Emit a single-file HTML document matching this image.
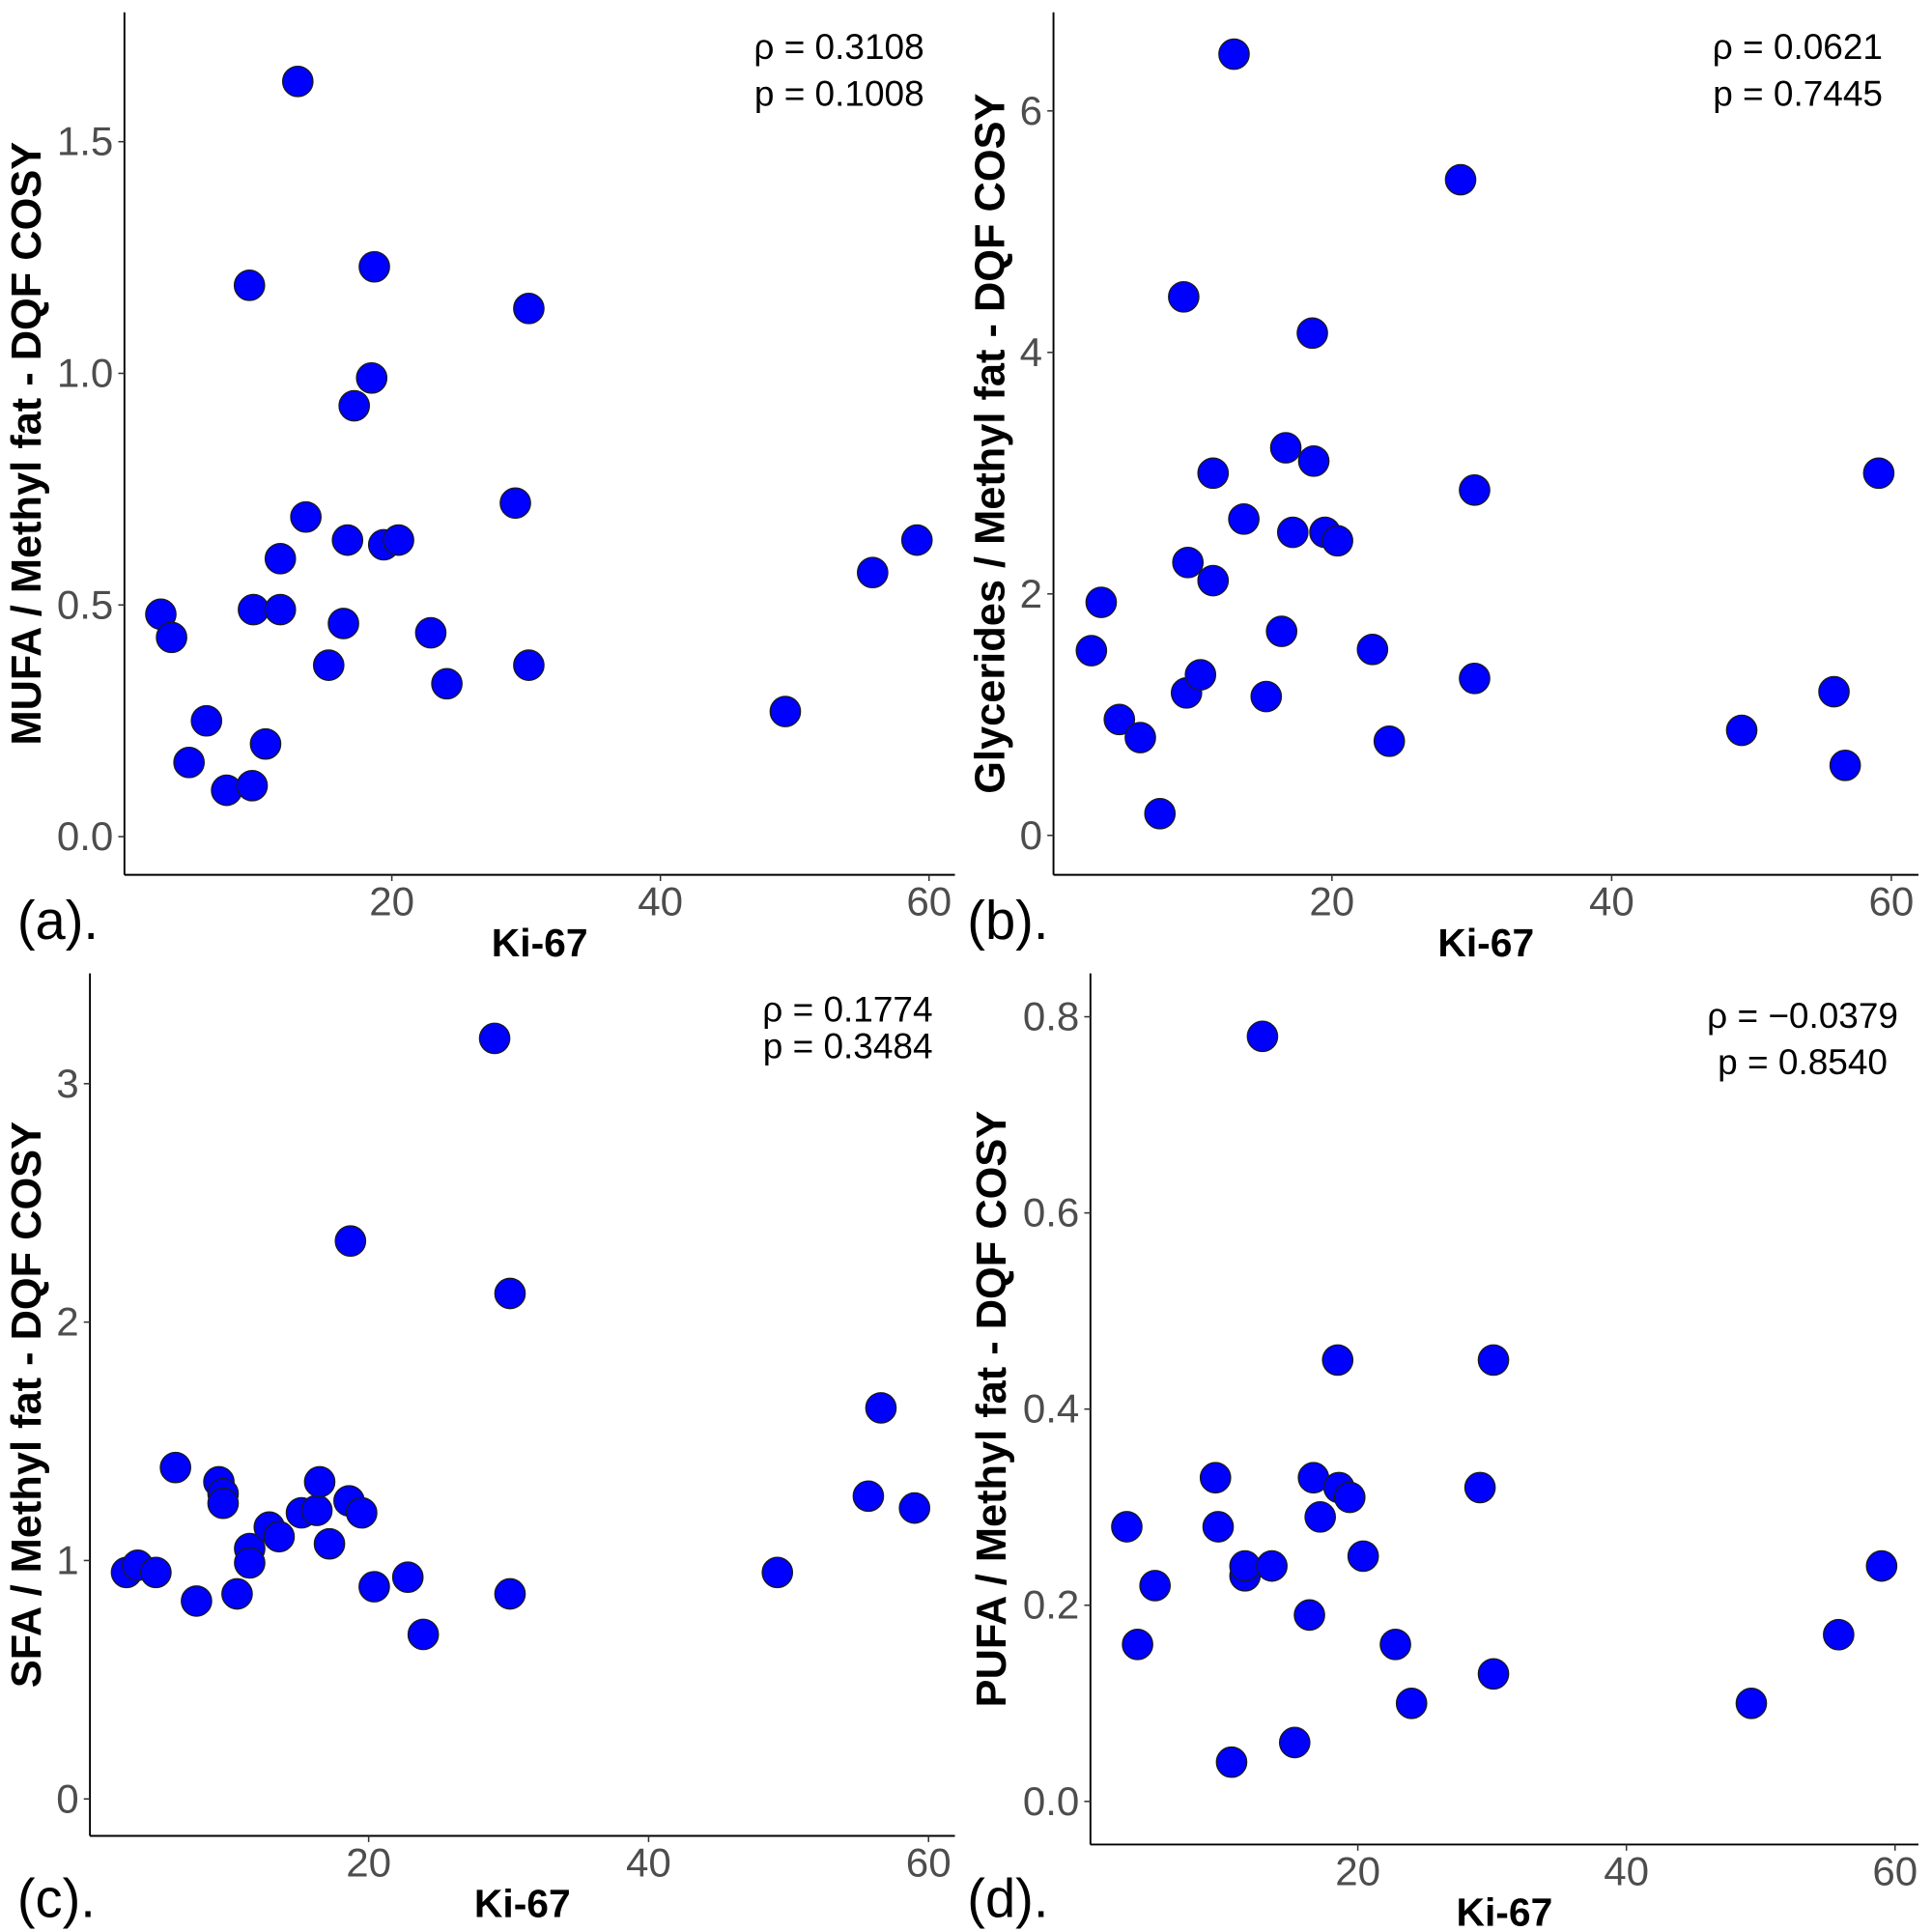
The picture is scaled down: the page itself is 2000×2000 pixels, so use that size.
<!DOCTYPE html>
<html><head><meta charset="utf-8"><style>
html,body{margin:0;padding:0;background:#fff}
svg{display:block;font-family:"Liberation Sans",sans-serif}
</style></head><body>
<svg id="chart" width="2000" height="2000" viewBox="0 0 1568 1568" xmlns="http://www.w3.org/2000/svg"></svg>
<script>
const kiA=[2.8,3.6,4.9,6.2,7.7,9.6,9.4,9.7,10.6,11.7,11.7,13.0,13.6,15.3,16.4,16.7,17.2,18.5,18.7,19.4,20.5,22.9,24.1,29.2,30.2,30.2,49.3,55.8,59.1];
const mufa=[0.48,0.43,0.16,0.25,0.10,0.11,1.19,0.49,0.20,0.60,0.49,1.63,0.69,0.37,0.46,0.64,0.93,0.99,1.23,0.63,0.64,0.44,0.33,0.72,1.14,0.37,0.27,0.57,0.64];
const kiB=[2.8,3.5,4.8,6.3,7.7,9.4,9.6,9.7,10.6,11.5,11.5,13.0,13.7,15.3,16.4,16.7,17.2,18.6,18.7,19.5,20.4,22.9,24.1,29.2,30.2,30.2,49.3,55.9,56.7,59.1];
const glyc=[1.53,1.93,0.96,0.81,0.18,4.46,1.18,2.26,1.33,3.00,2.11,6.47,2.62,1.15,1.69,3.21,2.51,4.16,3.10,2.51,2.44,1.54,0.78,5.43,2.86,1.30,0.87,1.19,0.58,3.00];
const kiC=[2.7,3.5,4.8,6.2,7.7,9.3,9.6,9.6,10.6,11.5,11.5,12.9,13.6,15.2,16.3,16.5,17.2,18.6,18.7,19.5,20.4,22.8,23.9,29.0,30.1,30.1,49.2,55.7,56.6,59.0];
const sfa=[0.95,0.98,0.95,1.39,0.83,1.33,1.28,1.24,0.86,1.05,0.99,1.14,1.10,1.20,1.21,1.33,1.07,1.25,2.34,1.20,0.89,0.93,0.69,3.19,2.12,0.86,0.95,1.27,1.64,1.22];
const kiD=[2.8,3.6,4.9,9.4,9.6,11.6,11.6,10.6,13.6,12.9,15.3,16.4,16.7,17.2,18.5,18.6,19.4,20.4,22.8,24.0,29.1,30.1,30.1,49.3,55.8,59.0];
const pufa=[0.28,0.16,0.22,0.33,0.28,0.23,0.24,0.04,0.24,0.78,0.06,0.19,0.33,0.29,0.45,0.32,0.31,0.25,0.16,0.10,0.32,0.45,0.13,0.10,0.17,0.24];
const xTicks=[20,40,60];
const yTicksA=[0,0.5,1.0,1.5], yLabA=["0.0","0.5","1.0","1.5"];
const yTicksB=[0,2,4,6], yLabB=["0","2","4","6"];
const yTicksC=[0,1,2,3], yLabC=["0","1","2","3"];
const yTicksD=[0,0.2,0.4,0.6,0.8], yLabD=["0.0","0.2","0.4","0.6","0.8"];

const NS="http://www.w3.org/2000/svg", svg=document.getElementById('chart');
function mk(tag,attrs,parent,text){const e=document.createElementNS(NS,tag);for(const k in attrs)e.setAttribute(k,attrs[k]);if(text!==undefined)e.textContent=text;(parent||svg).appendChild(e);return e;}

const panels=[
 {id:'a',xs:kiA,ys:mufa,ax:101,top:10,bot:710,right:775,x0:100,xs_:10.9,y0:679,ysc:376,yt:yTicksA,yl:yLabA,title:'MUFA / Methyl fat - DQF COSY',tx:33,lab:'(a).',labX:14,labY:762,rho:'ρ = 0.3108',p:'p = 0.1008',annX:750,annY1:48,annY2:86,anchor:'end'},
 {id:'b',xs:kiB,ys:glyc,ax:855,top:10,bot:710,right:1557,x0:854,xs_:11.35,y0:678,ysc:98,yt:yTicksB,yl:yLabB,title:'Glycerides / Methyl fat - DQF COSY',tx:815,lab:'(b).',labX:785,labY:762,rho:'ρ = 0.0621',p:'p = 0.7445',annX:1528,annY1:48,annY2:86,anchor:'end'},
 {id:'c',xs:kiC,ys:sfa,ax:73,top:790,bot:1490,right:775,x0:72,xs_:11.36,y0:1460,ysc:193.5,yt:yTicksC,yl:yLabC,title:'SFA / Methyl fat - DQF COSY',tx:33,lab:'(c).',labX:14,labY:1556,rho:'ρ = 0.1774',p:'p = 0.3484',annX:757,annY1:829,annY2:859,anchor:'end'},
 {id:'d',xs:kiD,ys:pufa,ax:885,top:790,bot:1497,right:1557,x0:884,xs_:10.9,y0:1462,ysc:796,yt:yTicksD,yl:yLabD,title:'PUFA / Methyl fat - DQF COSY',tx:816,lab:'(d).',labX:785,labY:1556,rho:'ρ = −0.0379',p:'p = 0.8540',annX:1463,annY1:834,annY2:872,anchor:'middle'}
];
panels.forEach(P=>{
 const g=mk('g',{});
 
 
 const X=v=>P.x0+v*P.xs_, Y=v=>P.y0-v*P.ysc;
 const ya=mk('line',{x1:P.ax,y1:P.top,x2:P.ax,y2:P.bot,stroke:'#000','stroke-width':1.5},g);
 
 const xa=mk('line',{x1:P.ax,y1:P.bot,x2:P.right,y2:P.bot,stroke:'#000','stroke-width':1.5},g);
 
 xTicks.forEach(t=>{
  mk('line',{x1:X(t),y1:P.bot,x2:X(t),y2:P.bot+5,stroke:'#333','stroke-width':1.2},g);
  const tl=mk('text',{x:X(t),y:P.bot+33,'text-anchor':'middle','font-size':33,fill:'#4d4d4d'},g,String(t));
  
 });
 P.yt.forEach((t,i)=>{
  mk('line',{x1:P.ax-5,y1:Y(t),x2:P.ax,y2:Y(t),stroke:'#333','stroke-width':1.2},g);
  const tl=mk('text',{x:P.ax-9,y:Y(t)+11,'text-anchor':'end','font-size':33,fill:'#4d4d4d'},g,P.yl[i]);
  
 });
 const cx=(P.ax+P.right)/2;
 const xt=mk('text',{x:cx,y:P.bot+66,'text-anchor':'middle','font-size':32,'font-weight':'bold'},g,'Ki-67');
 
 const cy=(P.top+P.bot)/2, tx=P.tx;
 const yt=mk('text',{x:tx,y:cy,'text-anchor':'middle','font-size':34,'font-weight':'bold',transform:`rotate(-90 ${tx} ${cy})`},g,P.title);
 
 const pl=mk('text',{x:P.labX,y:P.labY,'font-size':44},g,P.lab);
 
 const r=mk('text',{x:P.annX,y:P.annY1,'text-anchor':P.anchor,'font-size':29},g,P.rho);
 
 const pp=mk('text',{x:P.annX,y:P.annY2,'text-anchor':P.anchor,'font-size':29},g,P.p);
 
 P.xs.forEach((v,i)=>{
  const c=mk('circle',{cx:X(v),cy:Y(P.ys[i]),r:12.3,fill:'#0000ff',stroke:'#1a1a1a','stroke-width':1},g);
  
  
 });
});
</script>
</body></html>
